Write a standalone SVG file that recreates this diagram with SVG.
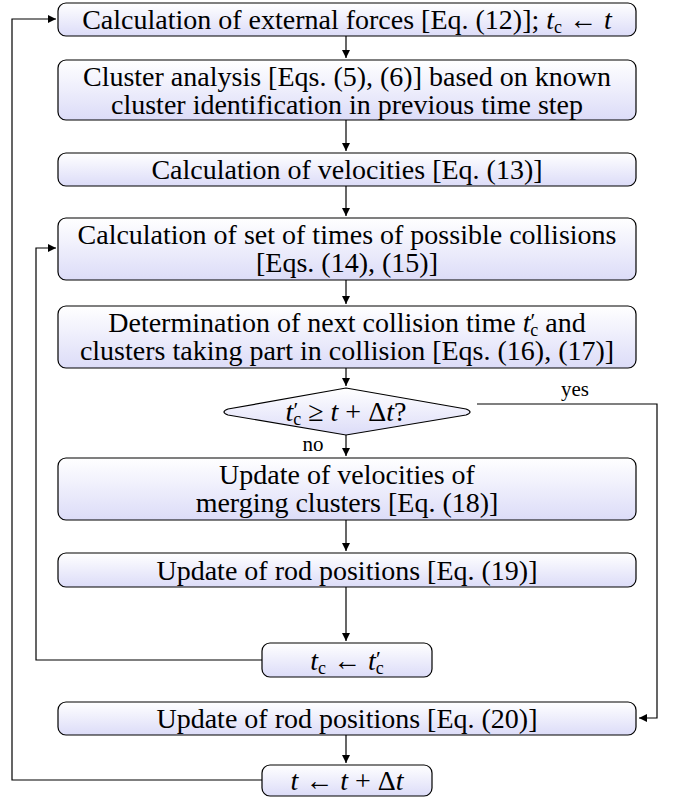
<svg xmlns="http://www.w3.org/2000/svg" width="674" height="800" viewBox="0 0 674 800">
<defs>
<linearGradient id="g" x1="0" y1="0" x2="0" y2="1">
<stop offset="0" stop-color="#ffffff"/>
<stop offset="1" stop-color="#dcdcf8"/>
</linearGradient>
<marker id="a" viewBox="0 0 10 10" refX="10" refY="5" markerWidth="8" markerHeight="8" markerUnits="userSpaceOnUse" orient="auto">
<path d="M0,0 L10,5 L0,10 z" fill="#000"/>
</marker>
<style>
.b{fill:url(#g);stroke:#000;stroke-width:1.2}
text{font-family:'Liberation Serif','Times New Roman',serif;font-size:28px;fill:#000;text-anchor:middle}
.m{font-style:italic}
.s{font-size:18px}
.p{font-size:22px}
.l{font-size:21px}
.c{fill:none;stroke:#000;stroke-width:1.2}
</style>
</defs>
<g id="connectors">
<path class="c" d="M346,36 V58" marker-end="url(#a)"/>
<path class="c" d="M346,120 V151" marker-end="url(#a)"/>
<path class="c" d="M346,186 V216" marker-end="url(#a)"/>
<path class="c" d="M346,280 V304" marker-end="url(#a)"/>
<path class="c" d="M346,368 V386" marker-end="url(#a)"/>
<path class="c" d="M346,435 V456" marker-end="url(#a)"/>
<path class="c" d="M346,520 V551" marker-end="url(#a)"/>
<path class="c" d="M346,587 V641" marker-end="url(#a)"/>
<path class="c" d="M346,735 V763" marker-end="url(#a)"/>
<path class="c" d="M477,404 H657 V718 H639" marker-end="url(#a)"/>
<path class="c" d="M262,660 H36 V248 H56" marker-end="url(#a)"/>
<path class="c" d="M262,780 H12 V19 H56" marker-end="url(#a)"/>
<text class="l" x="575" y="396">yes</text>
<text class="l" x="313" y="451">no</text>
</g>
<g id="n1">
<rect class="b" x="58" y="3" width="578" height="33" rx="8"/>
<text x="347" y="29">Calculation of external forces [Eq. (12)]; <tspan class="m">t</tspan><tspan class="s" dy="4">c</tspan><tspan dy="-4"> ← </tspan><tspan class="m">t</tspan></text>
</g>
<g id="n2">
<rect class="b" x="58" y="60" width="578" height="60" rx="8"/>
<text x="347" y="86">Cluster analysis [Eqs. (5), (6)] based on known</text>
<text x="347" y="114">cluster identification in previous time step</text>
</g>
<g id="n3">
<rect class="b" x="58" y="153" width="578" height="33" rx="8"/>
<text x="347" y="179">Calculation of velocities [Eq. (13)]</text>
</g>
<g id="n4">
<rect class="b" x="58" y="218" width="578" height="62" rx="8"/>
<text x="347" y="244">Calculation of set of times of possible collisions</text>
<text x="347" y="272">[Eqs. (14), (15)]</text>
</g>
<g id="n5">
<rect class="b" x="58" y="306" width="578" height="62" rx="8"/>
<text x="347" y="332">Determination of next collision time <tspan class="m">t</tspan><tspan class="p" dy="-4">′</tspan><tspan class="s" dx="-5" dy="8">c</tspan><tspan dy="-4"> and</tspan></text>
<text x="347" y="360">clusters taking part in collision [Eqs. (16), (17)]</text>
</g>
<g id="n6">
<path class="b" d="M346,388 L466,409 Q474,412 466,415 L346,435 L228,415 Q220,412 228,409 Z"/>
<text x="346" y="421"><tspan class="m">t</tspan><tspan class="p" dy="-4">′</tspan><tspan class="s" dx="-5" dy="8">c</tspan><tspan dy="-4"> ≥ </tspan><tspan class="m">t</tspan> + Δ<tspan class="m">t</tspan>?</text>
</g>
<g id="n7">
<rect class="b" x="58" y="458" width="578" height="62" rx="8"/>
<text x="347" y="484">Update of velocities of</text>
<text x="347" y="512">merging clusters [Eq. (18)]</text>
</g>
<g id="n8">
<rect class="b" x="58" y="553" width="578" height="34" rx="8"/>
<text x="347" y="580">Update of rod positions [Eq. (19)]</text>
</g>
<g id="n9">
<rect class="b" x="262" y="643" width="170" height="34" rx="8"/>
<text x="347" y="670"><tspan class="m">t</tspan><tspan class="s" dy="4">c</tspan><tspan dy="-4">  ←  </tspan><tspan class="m">t</tspan><tspan class="p" dy="-4">′</tspan><tspan class="s" dx="-5" dy="8">c</tspan></text>
</g>
<g id="n10">
<rect class="b" x="58" y="702" width="578" height="33" rx="8"/>
<text x="347" y="728">Update of rod positions [Eq. (20)]</text>
</g>
<g id="n11">
<rect class="b" x="262" y="765" width="170" height="31" rx="8"/>
<text x="347" y="790"><tspan class="m">t</tspan> ← <tspan class="m">t</tspan> + Δ<tspan class="m">t</tspan></text>
</g>
</svg>
